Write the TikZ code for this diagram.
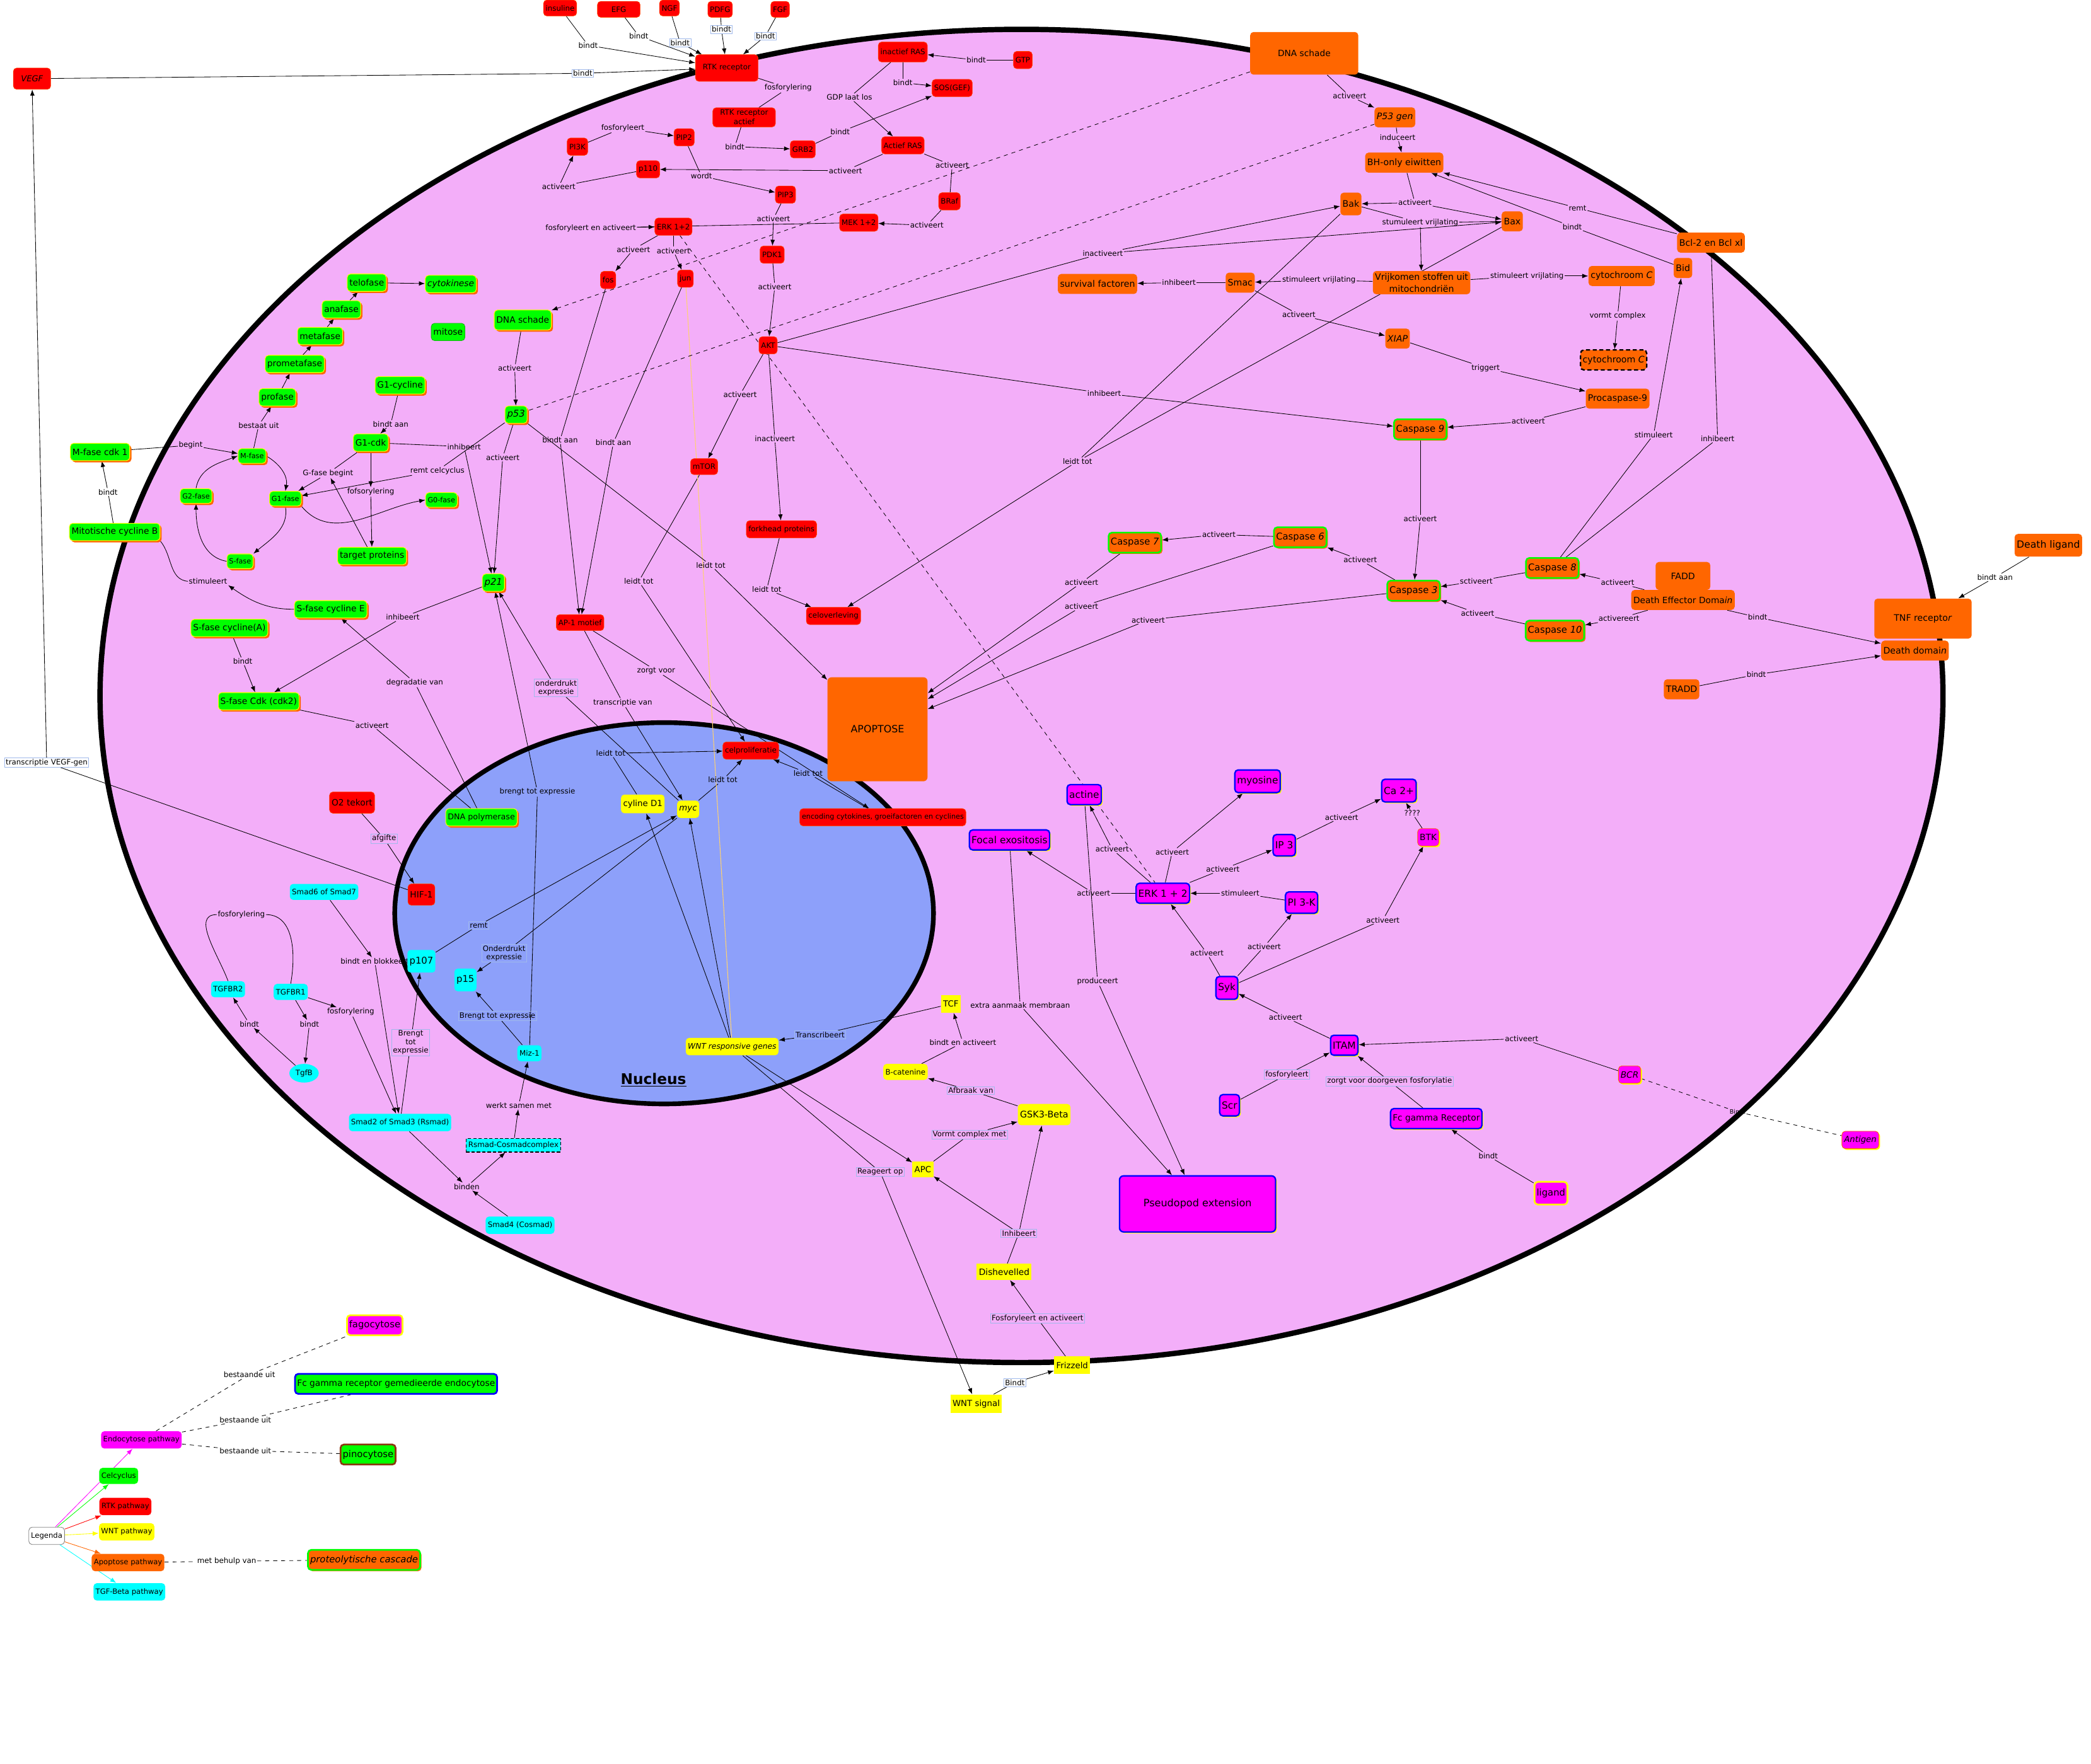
\documentclass[tikz,border=0pt]{standalone}
\usepackage{fontspec}
\setmainfont{DejaVu Sans}
\usetikzlibrary{arrows.meta, shadows, shapes.geometric}

\pgfdeclarelayer{achtergrond}
\pgfdeclarelayer{lijnen}
\pgfsetlayers{achtergrond,lijnen,main}

\definecolor{celroze}{RGB}{243,174,249}
\definecolor{kernblauw}{RGB}{141,160,250}
\definecolor{rgroen}{RGB}{0,255,0}
\definecolor{roranje}{RGB}{255,102,0}
\definecolor{rgeel}{RGB}{255,255,0}
\definecolor{rcyaan}{RGB}{0,255,255}
\definecolor{rmagenta}{RGB}{255,0,255}
\definecolor{rblauw}{RGB}{0,0,255}
\definecolor{rrood}{RGB}{255,0,0}
\definecolor{labrand}{RGB}{160,185,235}
\definecolor{wntlijn}{RGB}{255,210,110}
\definecolor{bruin}{RGB}{140,55,15}

\newcommand{\fsz}[2]{\fontsize{#1}{#2}\selectfont}
\newcommand{\koppel}[3]{\draw (#1) -- (#2); \draw[pijl] (#2) -- (#3);}

\tikzset{
  knoop/.style={rounded corners=2.5pt, inner sep=1.6pt, align=center},
  rtk/.style={knoop, fill=rrood, draw={rgb,255:red,255;green,70;blue,0}, line width=0.3pt, minimum height=12pt, font=\fsz{5.6}{6.6}},
  cyclus/.style={knoop, fill=rgroen, draw=rgeel, line width=0.5pt, minimum height=13pt, font=\fsz{6.5}{7.5},
    drop shadow={fill=roranje, opacity=1, shadow xshift=1.3pt, shadow yshift=-1.3pt}},
  fase/.style={cyclus, font=\fsz{5.3}{6.3}, minimum height=11pt},
  apo/.style={knoop, fill=roranje, minimum height=15pt, font=\fsz{6.7}{8}},
  caspase/.style={apo, draw=rgroen, line width=1.2pt, font=\fsz{7}{8},
    drop shadow={fill=roranje, opacity=1, shadow xshift=1pt, shadow yshift=-1pt}},
  endo/.style={knoop, fill=rmagenta, draw=rblauw, line width=1.1pt, minimum height=15pt, font=\fsz{7.3}{8.5},
    drop shadow={fill=rgeel, opacity=1, shadow xshift=1pt, shadow yshift=-1pt}},
  wnt/.style={knoop, fill=rgeel, minimum height=12pt, font=\fsz{6.3}{7.3}},
  tgf/.style={knoop, fill=rcyaan, minimum height=12pt, font=\fsz{5.6}{6.6}},
  lab/.style={inner sep=0.6pt, align=center, font=\fsz{5.6}{6.4}},
  labbox/.style={lab, draw=labrand, line width=0.3pt, inner sep=0.8pt},
  pijl/.style={-{Latex[length=4.5pt,width=3.4pt]}},
}

\begin{document}
\begin{tikzpicture}[x=1pt, y=-1pt, line width=0.4pt]
\useasboundingbox (0,0) rectangle (1568,1323);

% cel en kern
\begin{pgfonlayer}{achtergrond}
  \fill[white] (0,0) rectangle (1568,1323);
  \draw[line width=4pt, fill=celroze] (766,522) ellipse [x radius=691pt, y radius=500pt];
  \draw[line width=3.5pt, fill=kernblauw] (498,685) ellipse [x radius=202pt, y radius=143pt];
\end{pgfonlayer}
\node[font=\bfseries\fsz{11}{12}] (kern) at (490,810) {\underline{Nucleus}};

% labels RTK pathway
\node[lab] (lb1) at (441,34) {bindt};
\node[lab] (lb2) at (479,27) {bindt};
\node[labbox] (lb3) at (510,32) {bindt};
\node[labbox] (lb4) at (541,22) {bindt};
\node[labbox] (lb5) at (574,27) {bindt};
\node[labbox] (lb6) at (437,55) {bindt};
\node[lab] (lfosf) at (591,66) {fosforylering};
\node[lab] (lb7) at (551,110) {bindt};
\node[lab] (lb8) at (630,99) {bindt};
\node[lab] (lb9) at (677,62) {bindt};
\node[lab] (lb10) at (732,45) {bindt};
\node[lab] (lgdp) at (637,73) {GDP laat los};
\node[lab] (lfos2) at (467,96) {fosforyleert};
\node[lab] (lwordt) at (526,132) {wordt};
\node[lab] (la1) at (634,128) {activeert};
\node[lab] (la2) at (419,140) {activeert};
\node[lab] (la3) at (714,124) {activeert};
\node[lab] (la4) at (695,169) {activeert};
\node[lab] (lfea) at (443,171) {fosforyleert en activeert};
\node[lab] (la5) at (580,164) {activeert};
\node[lab] (la6) at (475,187) {activeert};
\node[lab] (la7) at (505,188) {activeert};
\node[lab] (la8) at (581,215) {activeert};
\node[lab] (lba1) at (420,330) {bindt aan};
\node[lab] (lba2) at (460,332) {bindt aan};
\node[lab] (la9) at (555,296) {activeert};
\node[lab] (lina1) at (581,329) {inactiveert};
\node[lab] (llt1) at (575,442) {leidt tot};
\node[lab] (llt2) at (479,436) {leidt tot};
\node[lab] (lzv) at (492,503) {zorgt voor};
\node[lab] (ltv) at (467,527) {transcriptie van};
\node[labbox] (loe) at (417,516) {onderdrukt\\expressie};
\node[lab] (lbte) at (403,594) {brengt tot expressie};
\node[lab] (llt3) at (458,565) {leidt tot};
\node[lab] (llt4) at (542,585) {leidt tot};
\node[lab] (llt5) at (606,580) {leidt tot};

% labels WNT pathway
\node[labbox] (ltr) at (615,776) {Transcribeert};
\node[lab] (lbea) at (722,782) {bindt en activeert};
\node[labbox] (lafb) at (728,818) {Afbraak van};
\node[labbox] (lvcm) at (727,851) {Vormt complex met};
\node[labbox] (lro) at (660,879) {Reageert op};
\node[labbox] (linh) at (764,925) {Inhibeert};
\node[labbox] (lfea2) at (778,989) {Fosforyleert en activeert};
\node[labbox] (lbnd) at (761,1037) {Bindt};

% labels apoptose
\node[lab] (la10) at (1012,72) {activeert};
\node[lab] (lind) at (1048,103) {induceert};
\node[lab] (la11) at (1061,152) {activeert};
\node[lab] (lsv1) at (1065,167) {stumuleert vrijlating};
\node[lab] (lsv2) at (1145,207) {stimuleert vrijlating};
\node[lab] (lsv3) at (989,210) {stimuleert vrijlating};
\node[lab] (lih1) at (884,212) {inhibeert};
\node[lab] (la12) at (974,236) {activeert};
\node[lab] (ltrg) at (1114,276) {triggert};
\node[lab] (lvc) at (1213,237) {vormt complex};
\node[lab] (la13) at (1146,316) {activeert};
\node[lab] (lih2) at (828,295) {inhibeert};
\node[lab] (lina2) at (827,190) {inactiveert};
\node[lab] (llt6) at (808,346) {leidt tot};
\node[lab] (llt7) at (533,424) {leidt tot};
\node[lab] (la14) at (1065,389) {activeert};
\node[lab] (la15) at (1020,420) {activeert};
\node[lab] (la16) at (914,401) {activeert};
\node[lab] (la17) at (811,437) {activeert};
\node[lab] (la18) at (811,455) {activeert};
\node[lab] (la19) at (861,465) {activeert};
\node[lab] (lsct) at (1107,436) {sctiveert};
\node[lab] (la20) at (1108,460) {activeert};
\node[lab] (la21) at (1213,437) {activeert};
\node[lab] (la22) at (1214,464) {activereert};
\node[lab] (lb11) at (1318,463) {bindt};
\node[lab] (lb12) at (1317,506) {bindt};
\node[lab] (lba4) at (1496,433) {bindt aan};
\node[lab] (lst1) at (1240,326) {stimuleert};
\node[lab] (lih3) at (1288,329) {inhibeert};
\node[lab] (lremt) at (1183,156) {remt};
\node[lab] (lb13) at (1179,170) {bindt};
\node[lab, font=\fsz{4.5}{5}] (lbcr) at (1303,834) {Bindt};

% labels endocytose
\node[lab] (la23) at (820,670) {activeert};
\node[lab] (la24) at (834,637) {activeert};
\node[lab] (la25) at (879,639) {activeert};
\node[lab] (la26) at (917,652) {activeert};
\node[lab] (la27) at (1006,613) {activeert};
\node[lab] (lq) at (1059,610) {????};
\node[lab] (lst2) at (930,670) {stimuleert};
\node[lab] (la28) at (905,715) {activeert};
\node[lab] (la29) at (948,710) {activeert};
\node[lab] (la30) at (1037,690) {activeert};
\node[lab] (la31) at (964,763) {activeert};
\node[labbox] (lfo) at (965,806) {fosforyleert};
\node[labbox] (lzvd) at (1042,811) {zorgt voor doorgeven fosforylatie};
\node[lab] (la32) at (1141,779) {activeert};
\node[lab] (lb14) at (1116,867) {bindt};
\node[lab] (lprod) at (823,736) {produceert};
\node[lab] (leam) at (765,754) {extra aanmaak membraan};

% labels celcyclus
\node[lab] (lbu) at (194,319) {bestaat uit};
\node[lab] (lbeg) at (143,334) {begint};
\node[lab] (lb15) at (81,369) {bindt};
\node[lab] (lstim) at (156,436) {stimuleert};
\node[lab] (lba5) at (293,318) {bindt aan};
\node[lab] (lgfb) at (246,355) {G-fase begint};
\node[lab] (lfof) at (278,369) {fofsorylering};
\node[lab] (lih4) at (348,335) {inhibeert};
\node[lab] (lrc) at (328,353) {remt celcyclus};
\node[lab] (la33) at (386,276) {activeert};
\node[lab] (la34) at (377,343) {activeert};
\node[lab] (lih5) at (302,463) {inhibeert};
\node[lab] (lb16) at (182,496) {bindt};
\node[lab] (la35) at (279,544) {activeert};
\node[lab] (ldv) at (311,512) {degradatie van};

% labels TGF-Beta
\node[labbox] (lafg) at (288,629) {afgifte};
\node[labbox, fill=white] (ltvg) at (35,572) {transcriptie VEGF-gen};
\node[lab] (lbeb) at (281,721) {bindt en blokkeert};
\node[lab] (lfosf1) at (181,686) {fosforylering};
\node[lab] (lb17) at (187,768) {bindt};
\node[lab] (lb18) at (232,768) {bindt};
\node[lab] (lfosf2) at (263,759) {fosforylering};
\node[labbox] (lbte2) at (308,782) {Brengt\\tot\\expressie};
\node[lab] (lbin) at (350,890) {binden};
\node[lab] (lwsm) at (389,829) {werkt samen met};
\node[labbox] (lbte3) at (373,762) {Brengt tot expressie};
\node[labbox] (loe2) at (378,715) {Onderdrukt\\expressie};
\node[labbox] (lremt2) at (359,694) {remt};

% labels legenda
\node[lab] (lbu1) at (187,1031) {bestaande uit};
\node[lab] (lbu2) at (184,1065) {bestaande uit};
\node[lab] (lbu3) at (184,1088) {bestaande uit};
\node[lab] (lmbv) at (170,1171) {met behulp van};

% RTK pathway
\node[rtk] (ins) at (420,6) {insuline};
\node[rtk, minimum width=32] (efg) at (464,7) {EFG};
\node[rtk] (ngf) at (502,6) {NGF};
\node[rtk] (pdfg) at (540,7) {PDFG};
\node[rtk] (fgf) at (585,7) {FGF};
\node[rtk, minimum width=47, minimum height=20] (rtkr) at (545,51) {RTK receptor};
\node[rtk, minimum width=28, minimum height=16, font=\fsz{6.2}{7}\itshape] (vegf) at (24,59) {VEGF};
\node[rtk, minimum height=15] (iras) at (677,39) {inactief RAS};
\node[rtk, minimum height=13] (gtp) at (767,45) {GTP};
\node[rtk, minimum height=13] (sos) at (714,66) {SOS(GEF)};
\node[rtk, minimum width=47] (rtka) at (558,88) {RTK receptor\\[0.5pt]actief};
\node[rtk, minimum height=13] (pi3k) at (433,110) {PI3K};
\node[rtk, minimum height=13] (pip2) at (513,103) {PIP2};
\node[rtk, minimum height=13] (grb2) at (602,112) {GRB2};
\node[rtk, minimum height=13] (aras) at (677,109) {Actief RAS};
\node[rtk, minimum height=13] (p110) at (486,127) {p110};
\node[rtk, minimum height=13] (pip3) at (589,146) {PIP3};
\node[rtk, minimum height=13] (braf) at (712,151) {BRaf};
\node[rtk, minimum height=13] (erk) at (505,170) {ERK 1+2};
\node[rtk, minimum height=13] (mek) at (644,167) {MEK 1+2};
\node[rtk, minimum height=13] (pdk1) at (579,191) {PDK1};
\node[rtk, minimum height=13] (fos) at (456,210) {fos};
\node[rtk, minimum height=13] (jun) at (514,209) {jun};
\node[rtk, minimum height=13] (akt) at (576,259) {AKT};
\node[rtk] (mtor) at (528,350) {mTOR};
\node[rtk, minimum height=13] (fork) at (586,397) {forkhead proteins};
\node[rtk, minimum height=13] (celov) at (625,462) {celoverleving};
\node[rtk] (ap1) at (435,467) {AP-1 motief};
\node[rtk, minimum height=13] (celpro) at (563,563) {celproliferatie};
\node[rtk, minimum height=13, font=\fsz{5.3}{6.3}] (enc) at (662,613) {encoding cytokines, groeifactoren en cyclines};
\node[rtk, minimum height=16, font=\fsz{6.5}{7.5}] (o2) at (264,602) {O2 tekort};
\node[rtk, minimum height=16, font=\fsz{6.5}{7.5}] (hif) at (316,671) {HIF-1};

% celcyclus
\node[cyclus] (telo) at (275,212) {telofase};
\node[cyclus, font=\fsz{6.5}{7.5}\itshape] (cytok) at (338,213) {cytokinese};
\node[cyclus] (ana) at (256,232) {anafase};
\node[cyclus] (meta) at (240,252) {metafase};
\node[cyclus, minimum height=15] (dnag) at (392,240) {DNA schade};
\node[knoop, fill=rgroen, draw={rgb,255:red,20;green,180;blue,20}, line width=0.4pt, minimum height=13pt, font=\fsz{6.5}{7.5}] (mitose) at (336,249) {mitose};
\node[cyclus] (prometa) at (221,273) {prometafase};
\node[cyclus] (pro) at (208,298) {profase};
\node[cyclus] (g1cyc) at (300,289) {G1-cycline};
\node[cyclus] (mcdk) at (75,339) {M-fase cdk 1};
\node[fase] (mfase) at (189,342) {M-fase};
\node[cyclus] (g1cdk) at (278,332) {G1-cdk};
\node[cyclus, font=\fsz{7}{8}\itshape] (p53) at (387,311) {p53};
\node[fase] (g2) at (147,372) {G2-fase};
\node[fase] (g1) at (214,374) {G1-fase};
\node[fase] (g0) at (331,375) {G0-fase};
\node[cyclus] (mcycb) at (86,399) {Mitotische cycline B};
\node[fase] (sfase) at (180,421) {S-fase};
\node[cyclus] (target) at (279,417) {target proteins};
\node[cyclus, font=\fsz{7}{8}\itshape] (p21) at (370,437) {p21};
\node[cyclus] (scycE) at (248,457) {S-fase cycline E};
\node[cyclus] (scycA) at (172,471) {S-fase cycline(A)};
\node[cyclus] (scdk) at (194,526) {S-fase Cdk (cdk2)};
\node[cyclus, font=\fsz{6}{7}] (dnapol) at (361,613) {DNA polymerase};

% apoptose
\node[apo, minimum width=81, minimum height=32, font=\fsz{6.5}{7.5}] (dnao) at (978,40) {DNA schade};
\node[apo, font=\fsz{6.7}{8}\itshape] (p53gen) at (1046,88) {P53 gen};
\node[apo] (bh) at (1053,122) {BH-only eiwitten};
\node[apo, minimum height=17] (bak) at (1013,153) {Bak};
\node[apo] (bax) at (1134,166) {Bax};
\node[apo] (bcl) at (1283,182) {Bcl-2 en Bcl xl};
\node[apo] (bid) at (1262,201) {Bid};
\node[apo] (surv) at (823,213) {survival factoren};
\node[apo] (smac) at (930,212) {Smac};
\node[apo] (vrij) at (1066,212) {Vrijkomen stoffen uit\\[1pt]mitochondriën};
\node[apo] (cytc) at (1216,207) {cytochroom \textit{C}};
\node[apo, font=\fsz{6.7}{8}\itshape] (xiap) at (1048,254) {XIAP};
\node[apo, draw=black, line width=1.1pt, dash pattern=on 3pt off 2pt] (cytc2) at (1210,270) {cytochroom \textit{C}};
\node[apo] (procasp) at (1213,299) {Procaspase-9};
\node[caspase] (casp9) at (1065,322) {Caspase \textit{9}};
\node[caspase] (casp7) at (851,407) {Caspase \textit{7}};
\node[caspase] (casp6) at (975,403) {Caspase \textit{6}};
\node[caspase] (casp3) at (1060,443) {Caspase \textit{3}};
\node[caspase] (casp8) at (1164,426) {Caspase \textit{8}};
\node[caspase] (casp10) at (1166,473) {Caspase \textit{10}};
\node[apo, minimum width=41, minimum height=21] (fadd) at (1262,432) {FADD};
\node[apo, font=\fsz{6.5}{7.5}] (ded) at (1262,450) {Death Effector Doma\textit{in}};
\node[apo, font=\fsz{7.4}{8.5}, minimum height=17] (dlig) at (1536,409) {Death ligand};
\node[apo, minimum width=73, minimum height=30] (tnf) at (1442,464) {TNF recepto\textit{r}};
\node[apo] (dd) at (1436,488) {Death domai\textit{n}};
\node[apo] (tradd) at (1261,517) {TRADD};
\node[apo, rounded corners=3pt, minimum width=75, minimum height=78, font=\fsz{7.5}{8.5}] (apop) at (658,547) {APOPTOSE};

% TGF-Beta pathway
\node[tgf] (smad67) at (243,669) {Smad6 of Smad7};
\node[tgf] (tgfbr2) at (171,742) {TGFBR2};
\node[tgf] (tgfbr1) at (218,744) {TGFBR1};
\node[ellipse, fill=rcyaan, inner sep=1pt, minimum width=22, minimum height=14, font=\fsz{5.6}{6.6}] (tgfb) at (228,805) {TgfB};
\node[tgf, minimum height=17, font=\fsz{7}{8}] (p107) at (316,721) {p107};
\node[tgf, minimum height=17, font=\fsz{7}{8}] (p15) at (349,735) {p15};
\node[tgf] (miz) at (397,790) {Miz-1};
\node[tgf, minimum height=13] (smad23) at (300,842) {Smad2 of Smad3 (Rsmad)};
\node[tgf, rounded corners=0pt, draw=black, line width=0.8pt, dash pattern=on 2.5pt off 1.5pt, minimum height=10pt] (rsc) at (385,859) {Rsmad-Cosmadcomplex};
\node[tgf, minimum height=13] (smad4) at (390,919) {Smad4 (Cosmad)};

% WNT pathway
\node[wnt, minimum height=14] (cycd1) at (482,603) {cyline D1};
\node[wnt, minimum height=13, font=\fsz{6.3}{7.3}\itshape] (myc) at (516,607) {myc};
\node[wnt, minimum height=13, font=\fsz{5.8}{6.8}\itshape] (wntg) at (549,785) {WNT responsive genes};
\node[wnt, rounded corners=0pt, minimum height=13] (tcf) at (713,753) {TCF};
\node[wnt, font=\fsz{5.6}{6.6}] (bcat) at (679,804) {B-catenine};
\node[wnt, minimum height=16, font=\fsz{6.8}{7.8}] (gsk) at (783,836) {GSK3-Beta};
\node[wnt, rounded corners=0pt, minimum height=12] (apc) at (692,877) {APC};
\node[wnt, rounded corners=0pt, font=\fsz{6.5}{7.5}] (dish) at (753,954) {Dishevelled};
\node[wnt, rounded corners=0pt, minimum height=13] (friz) at (804,1024) {Frizzeld};
\node[wnt, rounded corners=0pt, minimum height=14] (wnts) at (732,1053) {WNT signal};

% endocytose
\node[endo] (actine) at (813,596) {actine};
\node[endo, minimum height=17] (myos) at (943,586) {myosine};
\node[endo, minimum height=17] (ca) at (1049,593) {Ca 2+};
\node[endo] (focal) at (757,630) {Focal exositosis};
\node[endo, minimum height=16] (ip3) at (963,634) {IP 3};
\node[knoop, fill=rmagenta, draw=roranje, line width=0.4pt, minimum height=13pt, font=\fsz{6.5}{7.5},
  drop shadow={fill=rgeel, opacity=1, shadow xshift=1pt, shadow yshift=-1pt}] (btk) at (1071,628) {BTK};
\node[endo] (erkm) at (872,670) {ERK 1 + 2};
\node[endo, minimum height=16] (pi3km) at (976,677) {PI 3-K};
\node[endo, minimum height=17] (syk) at (920,741) {Syk};
\node[endo] (itam) at (1008,784) {ITAM};
\node[endo, minimum height=16] (scr) at (922,829) {Scr};
\node[knoop, fill=rmagenta, draw=roranje, line width=0.4pt, minimum height=13pt, font=\fsz{6.5}{7.5}\itshape,
  drop shadow={fill=rgeel, opacity=1, shadow xshift=1pt, shadow yshift=-1pt}] (bcr) at (1222,806) {BCR};
\node[endo, font=\fsz{6.5}{7.5}] (fcg) at (1077,839) {Fc gamma Receptor};
\node[knoop, fill=rmagenta, draw=rgeel, line width=1.3pt, minimum height=17pt, font=\fsz{7}{8}] (lig) at (1163,895) {ligand};
\node[knoop, fill=rmagenta, draw=roranje, line width=0.4pt, minimum height=13pt, font=\fsz{6.3}{7.3}\itshape,
  drop shadow={fill=rgeel, opacity=1, shadow xshift=1pt, shadow yshift=-1pt}] (antigen) at (1395,855) {Antigen};
\node[endo, rounded corners=3pt, minimum width=117, minimum height=42, font=\fsz{7.6}{8.6}] (pseudo) at (898,903) {Pseudopod extension};

% legenda
\node[knoop, fill=rmagenta, draw=rgeel, line width=1.3pt, minimum height=15pt, font=\fsz{7}{8}] (fago) at (281,994) {fagocytose};
\node[knoop, fill=rgroen, draw=rblauw, line width=1.3pt, minimum height=15pt, font=\fsz{6.5}{7.5}] (fcend) at (297,1038) {Fc gamma receptor gemedieerde endocytose};
\node[knoop, fill=rmagenta, minimum height=13pt, font=\fsz{5.5}{6.5}] (endo) at (106,1080) {Endocytose pathway};
\node[knoop, fill=rgroen, draw=bruin, line width=1.3pt, minimum height=15pt, font=\fsz{7}{8}] (pino) at (276,1091) {pinocytose};
\node[knoop, fill=rgroen, minimum height=12pt, font=\fsz{5.5}{6.5}] (lcel) at (89,1107) {Celcyclus};
\node[knoop, fill=rrood, minimum height=13pt, font=\fsz{5.5}{6.5}] (lrtk) at (94,1130) {RTK pathway};
\node[knoop, fill=rgeel, minimum height=13pt, font=\fsz{5.5}{6.5}] (lwnt) at (95,1149) {WNT pathway};
\node[knoop, fill=white, draw=gray, line width=0.4pt, minimum height=13pt, font=\fsz{5.5}{6.5}] (legenda) at (35,1152) {Legenda};
\node[knoop, fill=roranje, minimum height=13pt, font=\fsz{5.5}{6.5}] (lapo) at (96,1172) {Apoptose pathway};
\node[knoop, fill=roranje, draw=rgroen, line width=1.3pt, minimum height=15pt, font=\fsz{7}{8}\itshape,
  drop shadow={fill=roranje, opacity=1, shadow xshift=1pt, shadow yshift=-1pt}] (prot) at (273,1170) {proteolytische cascade};
\node[knoop, fill=rcyaan, minimum height=13pt, font=\fsz{5.5}{6.5}] (ltgf) at (97,1194) {TGF-Beta pathway};

\begin{pgfonlayer}{lijnen}
  % RTK pathway
  \koppel{ins}{lb1}{rtkr}
  \koppel{efg}{lb2}{rtkr}
  \koppel{ngf}{lb3}{rtkr}
  \koppel{pdfg}{lb4}{rtkr}
  \koppel{fgf}{lb5}{rtkr}
  \koppel{vegf}{lb6}{rtkr}
  \draw (rtkr) -- (lfosf); \draw (lfosf) -- (rtka);
  \koppel{rtka}{lb7}{grb2}
  \koppel{grb2}{lb8}{sos}
  \koppel{iras}{lb9}{sos}
  \koppel{gtp}{lb10}{iras}
  \koppel{iras}{lgdp}{aras}
  \koppel{pi3k}{lfos2}{pip2}
  \koppel{pip2}{lwordt}{pip3}
  \koppel{aras}{la1}{p110}
  \koppel{p110}{la2}{pi3k}
  \draw (aras) -- (la3); \draw (la3) -- (braf);
  \koppel{braf}{la4}{mek}
  \koppel{mek}{lfea}{erk}
  \koppel{pip3}{la5}{pdk1}
  \koppel{erk}{la6}{fos}
  \koppel{erk}{la7}{jun}
  \koppel{pdk1}{la8}{akt}
  \koppel{fos}{lba1}{ap1}
  \koppel{jun}{lba2}{ap1}
  \koppel{akt}{la9}{mtor}
  \koppel{akt}{lina1}{fork}
  \koppel{fork}{llt1}{celov}
  \koppel{mtor}{llt2}{celpro}
  \koppel{ap1}{lzv}{enc}
  \koppel{ap1}{ltv}{myc}
  \koppel{myc}{loe}{p21}
  \koppel{miz}{lbte}{p21}
  \koppel{cycd1}{llt3}{celpro}
  \koppel{myc}{llt4}{celpro}
  \koppel{enc}{llt5}{celpro}
  \draw[dashed] (erk) -- (erkm);
  \draw[wntlijn, line width=0.5pt] (jun) -- (wntg);

  % WNT pathway
  \draw[pijl] (wntg) -- (cycd1);
  \draw[pijl] (wntg) -- (myc);
  \draw[pijl] (wntg) -- (apc);
  \koppel{tcf}{ltr}{wntg}
  \koppel{bcat}{lbea}{tcf}
  \koppel{gsk}{lafb}{bcat}
  \koppel{apc}{lvcm}{gsk}
  \koppel{wntg}{lro}{wnts}
  \koppel{dish}{linh}{apc}
  \draw[pijl] (linh) -- (gsk);
  \koppel{friz}{lfea2}{dish}
  \koppel{wnts}{lbnd}{friz}

  % apoptose
  \draw[pijl, dashed] (dnao) -- (dnag);
  \draw[dashed] (p53gen) -- (p53);
  \koppel{dnao}{la10}{p53gen}
  \koppel{p53gen}{lind}{bh}
  \koppel{bh}{la11}{bak}
  \draw[pijl] (la11) -- (bax);
  \draw (bak) -- (lsv1); \draw (bax) -- (lsv1);
  \draw[pijl] (lsv1) -- (vrij);
  \koppel{vrij}{lsv2}{cytc}
  \koppel{vrij}{lsv3}{smac}
  \koppel{smac}{lih1}{surv}
  \koppel{smac}{la12}{xiap}
  \koppel{xiap}{ltrg}{procasp}
  \koppel{cytc}{lvc}{cytc2}
  \koppel{procasp}{la13}{casp9}
  \koppel{akt}{lih2}{casp9}
  \koppel{akt}{lina2}{bak}
  \draw[pijl] (lina2) -- (bax);
  \draw (bak) -- (llt6); \draw (bax) -- (llt6);
  \draw[pijl] (llt6) -- (celov);
  \koppel{p53}{llt7}{apop}
  \koppel{casp9}{la14}{casp3}
  \koppel{casp3}{la15}{casp6}
  \koppel{casp6}{la16}{casp7}
  \koppel{casp7}{la17}{apop}
  \koppel{casp6}{la18}{apop}
  \koppel{casp3}{la19}{apop}
  \koppel{casp8}{lsct}{casp3}
  \koppel{casp10}{la20}{casp3}
  \koppel{ded}{la21}{casp8}
  \koppel{ded}{la22}{casp10}
  \koppel{ded}{lb11}{dd}
  \koppel{tradd}{lb12}{dd}
  \koppel{dlig}{lba4}{tnf}
  \koppel{casp8}{lst1}{bid}
  \draw (casp8) -- (lih3); \draw (lih3) -- (bcl);
  \koppel{bcl}{lremt}{bh}
  \koppel{bid}{lb13}{bh}

  % endocytose
  \koppel{erkm}{la23}{focal}
  \koppel{erkm}{la24}{actine}
  \koppel{erkm}{la25}{myos}
  \koppel{erkm}{la26}{ip3}
  \koppel{ip3}{la27}{ca}
  \koppel{btk}{lq}{ca}
  \koppel{pi3km}{lst2}{erkm}
  \koppel{syk}{la28}{erkm}
  \koppel{syk}{la29}{pi3km}
  \koppel{syk}{la30}{btk}
  \koppel{itam}{la31}{syk}
  \koppel{scr}{lfo}{itam}
  \koppel{fcg}{lzvd}{itam}
  \koppel{bcr}{la32}{itam}
  \koppel{lig}{lb14}{fcg}
  \koppel{actine}{lprod}{pseudo}
  \koppel{focal}{leam}{pseudo}
  \draw[dashed] (bcr) -- (lbcr); \draw[dashed] (lbcr) -- (antigen);

  % celcyclus
  \draw[pijl] (telo) -- (cytok);
  \draw[pijl] (ana) -- (telo);
  \draw[pijl] (meta) -- (ana);
  \draw[pijl] (prometa) -- (meta);
  \draw[pijl] (pro) -- (prometa);
  \koppel{mfase}{lbu}{pro}
  \koppel{mcdk}{lbeg}{mfase}
  \koppel{mcycb}{lb15}{mcdk}
  \draw (mcycb.south east) to[out=-50,in=175] (lstim.west);
  \draw[pijl] (scycE.west) to[out=180,in=-35] (lstim.south east);
  \draw[pijl] (mfase.east) to[out=-30,in=80] (g1.north);
  \draw[pijl] (g1.south) to[out=-80,in=40] (sfase.north east);
  \draw[pijl] (sfase.west) to[out=170,in=-90] (g2.south);
  \draw[pijl] (g2.north) to[out=80,in=200] (mfase.west);
  \draw[pijl] (g1.south east) to[out=-50,in=190] (g0.west);
  \koppel{g1cyc}{lba5}{g1cdk}
  \koppel{g1cdk}{lgfb}{g1}
  \draw[pijl] (target) -- (lgfb);
  \draw[pijl] (g1cdk) -- (lfof);
  \draw[pijl] (lfof) -- (target);
  \koppel{g1cdk}{lih4}{p21}
  \koppel{p53}{lrc}{g1}
  \koppel{dnag}{la33}{p53}
  \koppel{p53}{la34}{p21}
  \koppel{p21}{lih5}{scdk}
  \koppel{scycA}{lb16}{scdk}
  \draw (scdk) -- (la35); \draw (la35) -- (dnapol);
  \koppel{dnapol}{ldv}{scycE}

  % TGF-Beta pathway
  \koppel{o2}{lafg}{hif}
  \koppel{hif}{ltvg}{vegf}
  \draw[pijl] (smad67) -- (lbeb);
  \draw[pijl] (lbeb) -- (smad23);
  \draw (tgfbr2.north) to[out=110,in=180] (lfosf1.west);
  \draw (lfosf1.east) to[out=0,in=80] (tgfbr1.north);
  \draw[pijl] (tgfb) -- (lb17);
  \draw[pijl] (lb17) -- (tgfbr2);
  \draw[pijl] (tgfbr1) -- (lb18);
  \draw[pijl] (lb18) -- (tgfb);
  \draw[pijl] (tgfbr1) -- (lfosf2);
  \draw[pijl] (lfosf2) -- (smad23);
  \koppel{smad23}{lbte2}{p107}
  \draw[pijl] (smad23) -- (lbin);
  \draw[pijl] (smad4) -- (lbin);
  \draw[pijl] (lbin) -- (rsc);
  \draw[pijl] (rsc) -- (lwsm);
  \draw[pijl] (lwsm) -- (miz);
  \koppel{miz}{lbte3}{p15}
  \koppel{myc}{loe2}{p15}
  \koppel{p107}{lremt2}{myc}

  % legenda
  \draw[pijl, rmagenta] (legenda) -- (endo);
  \draw[pijl, rgroen] (legenda) -- (lcel);
  \draw[pijl, rrood] (legenda) -- (lrtk);
  \draw[pijl, rgeel] (legenda) -- (lwnt);
  \draw[pijl, roranje] (legenda) -- (lapo);
  \draw[pijl, rcyaan] (legenda) -- (ltgf);
  \draw[dashed] (endo) -- (lbu1); \draw[dashed] (lbu1) -- (fago);
  \draw[dashed] (endo) -- (lbu2); \draw[dashed] (lbu2) -- (fcend);
  \draw[dashed] (endo) -- (lbu3); \draw[dashed] (lbu3) -- (pino);
  \draw[dashed] (lapo) -- (lmbv); \draw[dashed] (lmbv) -- (prot);
\end{pgfonlayer}
\end{tikzpicture}
\end{document}
